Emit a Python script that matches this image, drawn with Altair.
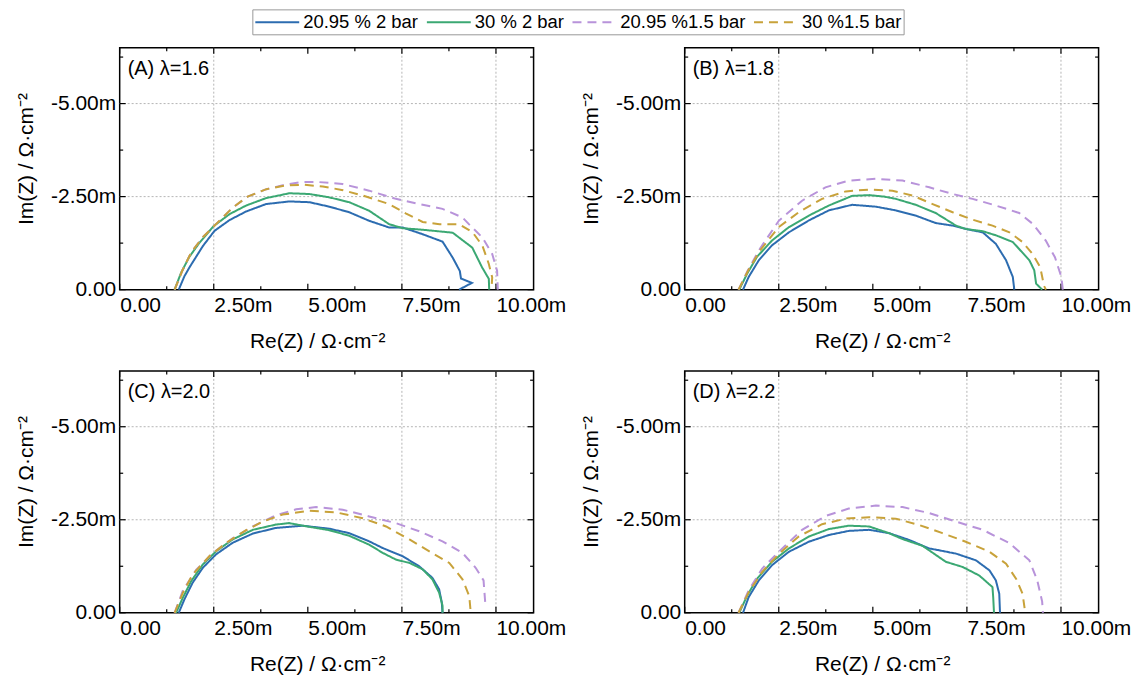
import altair as alt
import pandas as pd

FONT = "Liberation Sans"

# Series (O2 fraction, back pressure) with their line styles
SERIES = ["20.95 % 2 bar", "30 % 2 bar", "20.95 %1.5 bar", "30 %1.5 bar"]
COLORS = ["#2C6CB0", "#3BA873", "#B893DA", "#C8A23A"]
DASHES = [[1, 0], [1, 0], [9, 6], [9, 6]]

PANEL_LABELS = ["(A) λ=1.6", "(B) λ=1.8", "(C) λ=2.0", "(D) λ=2.2"]

# Nyquist curves: (Re Z, -Im Z) in mΩ·cm²
A_2095_2BAR = [(1.57, 0), (1.72, 0.36), (1.85, 0.59), (2.21, 1.17), (2.52, 1.58), (2.92, 1.87),
               (3.36, 2.10), (3.89, 2.30), (4.51, 2.37), (5.04, 2.35), (5.57, 2.23), (6.10, 2.08),
               (6.63, 1.85), (7.16, 1.67), (7.52, 1.67), (8.05, 1.49), (8.58, 1.29), (8.85, 0.86),
               (9.04, 0.50), (9.07, 0.30), (9.36, 0.18), (9.02, 0.0)]
A_30_2BAR = [(1.46, 0), (1.63, 0.45), (1.85, 0.88), (2.12, 1.26), (2.50, 1.71), (2.92, 2.03),
             (3.36, 2.26), (3.89, 2.46), (4.51, 2.59), (5.04, 2.57), (5.57, 2.48), (6.10, 2.35),
             (6.63, 2.12), (7.16, 1.76), (7.52, 1.65), (8.05, 1.61), (8.85, 1.53), (9.37, 1.13),
             (9.63, 0.60), (9.81, 0.29), (9.82, 0.0)]
A_2095_15BAR = [(1.46, 0), (1.66, 0.50), (1.90, 1.00), (2.20, 1.40), (2.60, 1.80), (3.00, 2.20),
                (3.40, 2.50), (3.90, 2.70), (4.40, 2.82), (4.80, 2.89), (5.30, 2.89), (5.92, 2.84),
                (6.63, 2.66), (7.34, 2.44), (7.96, 2.30), (8.58, 2.17), (9.11, 1.94), (9.28, 1.76),
                (9.64, 1.40), (9.90, 0.96), (10.03, 0.51), (10.05, 0.0)]
A_30_15BAR = [(1.46, 0), (1.66, 0.50), (1.90, 1.00), (2.20, 1.40), (2.60, 1.80), (3.00, 2.20),
              (3.40, 2.50), (3.90, 2.70), (4.40, 2.80), (4.90, 2.82), (5.40, 2.77), (5.90, 2.68),
              (6.46, 2.53), (7.16, 2.30), (7.60, 2.05), (8.05, 1.82), (8.50, 1.76), (9.02, 1.76),
              (9.38, 1.54), (9.64, 1.18), (9.81, 0.69), (9.90, 0.33), (9.88, 0.0)]

B_2095_2BAR = [(1.55, 0), (1.70, 0.34), (1.97, 0.79), (2.32, 1.19), (2.77, 1.54), (3.30, 1.86),
               (3.83, 2.13), (4.45, 2.28), (5.08, 2.23), (5.61, 2.13), (6.14, 1.99), (6.67, 1.79),
               (7.12, 1.72), (7.47, 1.63), (7.92, 1.54), (8.27, 1.23), (8.54, 0.79), (8.72, 0.34),
               (8.76, 0.0)]
B_30_2BAR = [(1.45, 0), (1.66, 0.43), (1.92, 0.88), (2.32, 1.32), (2.77, 1.68), (3.30, 1.99),
             (3.83, 2.26), (4.45, 2.52), (4.90, 2.54), (5.30, 2.50), (5.61, 2.44), (6.14, 2.28),
             (6.67, 2.06), (7.21, 1.72), (7.47, 1.63), (7.92, 1.57), (8.27, 1.46), (8.72, 1.28),
             (9.16, 0.79), (9.29, 0.52), (9.34, 0.16), (9.47, 0.03), (9.50, 0.0)]
B_2095_15BAR = [(1.43, 0), (1.68, 0.52), (2.00, 1.10), (2.50, 1.85), (3.12, 2.39), (3.74, 2.75),
                (4.36, 2.93), (5.08, 2.98), (5.79, 2.93), (6.50, 2.75), (7.12, 2.57), (7.65, 2.44),
                (8.27, 2.26), (8.89, 2.06), (9.26, 1.76), (9.60, 1.31), (9.84, 0.87), (10.01, 0.34),
                (10.05, 0.0)]
B_30_15BAR = [(1.43, 0), (1.68, 0.50), (2.00, 1.05), (2.50, 1.68), (3.03, 2.08), (3.65, 2.44),
              (4.28, 2.64), (4.90, 2.69), (5.52, 2.66), (6.05, 2.53), (6.59, 2.30), (7.12, 2.08),
              (7.65, 1.88), (8.18, 1.72), (8.63, 1.54), (8.98, 1.28), (9.25, 0.95), (9.45, 0.60),
              (9.55, 0.10), (9.60, 0.0)]

C_2095_2BAR = [(1.57, 0), (1.72, 0.36), (1.94, 0.81), (2.21, 1.21), (2.56, 1.57), (3.00, 1.88),
               (3.54, 2.13), (4.15, 2.28), (4.86, 2.34), (5.57, 2.26), (6.10, 2.14), (6.63, 1.92),
               (6.99, 1.74), (7.52, 1.52), (7.96, 1.25), (8.31, 0.94), (8.49, 0.63), (8.56, 0.28),
               (8.58, 0.0)]
C_30_2BAR = [(1.50, 0), (1.68, 0.41), (1.90, 0.85), (2.21, 1.30), (2.56, 1.65), (3.00, 1.97),
             (3.54, 2.23), (4.15, 2.37), (4.50, 2.41), (5.04, 2.31), (5.57, 2.22), (6.10, 2.07),
             (6.63, 1.83), (6.99, 1.61), (7.34, 1.43), (7.70, 1.34), (8.05, 1.17), (8.31, 0.90),
             (8.49, 0.54), (8.58, 0.19), (8.58, 0.0)]
C_2095_15BAR = [(1.46, 0), (1.68, 0.60), (2.03, 1.15), (2.47, 1.60), (3.00, 2.00), (3.54, 2.32),
                (4.15, 2.62), (4.69, 2.78), (5.22, 2.84), (5.93, 2.77), (6.63, 2.59), (7.34, 2.41),
                (7.96, 2.19), (8.58, 1.92), (9.11, 1.61), (9.46, 1.21), (9.67, 0.87), (9.72, 0.20)]
C_30_15BAR = [(1.46, 0), (1.68, 0.54), (1.94, 1.03), (2.38, 1.52), (2.83, 1.88), (3.36, 2.22),
              (3.80, 2.45), (4.33, 2.64), (5.04, 2.74), (5.75, 2.70), (6.46, 2.54), (7.08, 2.32),
              (7.70, 1.97), (8.23, 1.65), (8.76, 1.34), (9.11, 0.90), (9.29, 0.45), (9.33, 0.0)]

D_2095_2BAR = [(1.55, 0), (1.70, 0.42), (1.97, 0.87), (2.32, 1.28), (2.77, 1.64), (3.30, 1.91),
               (3.83, 2.09), (4.36, 2.20), (4.90, 2.23), (5.43, 2.14), (5.96, 1.96), (6.49, 1.73),
               (6.76, 1.68), (7.21, 1.59), (7.74, 1.41), (8.10, 1.14), (8.27, 0.87), (8.36, 0.51),
               (8.38, 0.0)]
D_30_2BAR = [(1.45, 0), (1.66, 0.46), (1.92, 0.91), (2.32, 1.37), (2.77, 1.73), (3.30, 2.05),
             (3.83, 2.25), (4.36, 2.34), (4.90, 2.32), (5.43, 2.14), (5.79, 1.98), (6.32, 1.80),
             (6.94, 1.37), (7.39, 1.23), (7.83, 1.00), (8.18, 0.69), (8.20, 0.40), (8.22, 0.0)]
D_2095_15BAR = [(1.43, 0), (1.70, 0.60), (2.06, 1.19), (2.50, 1.64), (3.12, 2.23), (3.74, 2.60),
                (4.36, 2.80), (5.08, 2.88), (5.79, 2.84), (6.50, 2.68), (7.21, 2.45), (7.92, 2.23),
                (8.63, 1.87), (9.16, 1.41), (9.37, 0.87), (9.50, 0.30), (9.52, 0.0)]
D_30_15BAR = [(1.43, 0), (1.70, 0.55), (2.06, 1.10), (2.50, 1.58), (3.03, 2.05), (3.65, 2.38),
              (4.28, 2.53), (4.90, 2.57), (5.61, 2.53), (6.23, 2.36), (6.85, 2.14), (7.47, 1.91),
              (8.10, 1.64), (8.54, 1.32), (8.81, 0.91), (8.98, 0.51), (9.05, 0.0)]

PANEL_CURVES = [
    [A_2095_2BAR, A_30_2BAR, A_2095_15BAR, A_30_15BAR],
    [B_2095_2BAR, B_30_2BAR, B_2095_15BAR, B_30_15BAR],
    [C_2095_2BAR, C_30_2BAR, C_2095_15BAR, C_30_15BAR],
    [D_2095_2BAR, D_30_2BAR, D_2095_15BAR, D_30_15BAR],
]

# Axis ticks and grid
RE_DOMAIN = [0, 11]
IM_DOMAIN = [0, 6.5]
MAJOR_RE = [0, 2.5, 5.0, 7.5, 10.0]
MINOR_RE = [1.25, 3.75, 6.25, 8.75]
MAJOR_IM = [0, 2.5, 5.0]
MINOR_IM = [1.25, 3.75, 6.25]
GRID_RE = [2.5, 7.5, 10.0]
GRID_IM = [2.5, 5.0]

W, H = 415, 242.5
TICK_FS = 21
TITLE_FS = 21


def x_enc():
    return alt.X(
        "re:Q",
        scale=alt.Scale(domain=RE_DOMAIN, nice=False, zero=False),
        axis=alt.Axis(
            values=MAJOR_RE,
            labelExpr="datum.value == 0 ? '0.00' : format(datum.value, '.2f') + 'm'",
            labelAlign="left", labelBaseline="middle", labelPadding=16,
            labelFlush=False, labelOverlap=False,
            labelFont=FONT, labelFontSize=TICK_FS, labelColor="black",
            ticks=False, domain=False, grid=False,
            title="Re(Z) / Ω·cm⁻²", titleFont=FONT, titleFontSize=TITLE_FS,
            titleFontWeight="normal", titleColor="black",
            titleX=198, titleY=52, titleAlign="center", titleBaseline="middle",
        ),
    )


def y_enc():
    return alt.Y(
        "im:Q",
        scale=alt.Scale(domain=IM_DOMAIN, nice=False, zero=False),
        axis=alt.Axis(
            values=MAJOR_IM,
            labelExpr="datum.value == 0 ? '0.00' : '-' + format(datum.value, '.2f') + 'm'",
            labelAlign="right", labelBaseline="middle", labelPadding=4,
            labelFlush=False, labelOverlap=False,
            labelFont=FONT, labelFontSize=TICK_FS, labelColor="black",
            ticks=False, domain=False, grid=False,
            title="Im(Z) / Ω·cm⁻²", titleFont=FONT, titleFontSize=TITLE_FS,
            titleFontWeight="normal", titleColor="black", titleAngle=270,
            titleX=-93.5, titleY=111, titleAlign="center", titleBaseline="middle",
        ),
    )


# Legend key: a horizontal stroke that starts at the left of its nominal
# symbol box and runs past it, so the row stays compact with long samples.
LEGEND = alt.Legend(
    title=None, orient="none", legendX=133, legendY=-38.5, direction="horizontal",
    symbolType="M-1,0L3.4,0", symbolSize=400, symbolStrokeWidth=2,
    labelOffset=27, gridAlign="none",
    labelFont=FONT, labelFontSize=18.5, labelColor="black",
    columnPadding=4, padding=2, strokeColor="#999999", fillColor="white",
)


def curve_frame(curves):
    rows = []
    for name, pts in zip(SERIES, curves):
        for k, (re, im) in enumerate(pts):
            rows.append({"series": name, "k": k, "re": re, "im": im})
    return pd.DataFrame(rows)


def panel(label, curves):
    grid_x = alt.Chart(pd.DataFrame({"re": GRID_RE})).mark_rule(
        color="#b5b5b5", strokeDash=[2, 2], strokeWidth=1
    ).encode(x=x_enc(), y=alt.value(0), y2=alt.value(H))
    grid_y = alt.Chart(pd.DataFrame({"im": GRID_IM})).mark_rule(
        color="#b5b5b5", strokeDash=[2, 2], strokeWidth=1
    ).encode(y=y_enc(), x=alt.value(0), x2=alt.value(W))

    layers = [grid_x, grid_y]
    for vals, ln in ((MAJOR_RE, 6), (MINOR_RE, 3.5)):
        src = pd.DataFrame({"re": vals})
        for y0, y1 in ((H, H - ln), (0, ln)):
            layers.append(alt.Chart(src).mark_rule(color="black", strokeWidth=1.2).encode(
                x=x_enc(), y=alt.value(y0), y2=alt.value(y1)))
    for vals, ln in ((MAJOR_IM, 6), (MINOR_IM, 3.5)):
        src = pd.DataFrame({"im": vals})
        for x0, x1 in ((0, ln), (W, W - ln)):
            layers.append(alt.Chart(src).mark_rule(color="black", strokeWidth=1.2).encode(
                y=y_enc(), x=alt.value(x0), x2=alt.value(x1)))

    lines = alt.Chart(curve_frame(curves)).mark_line(strokeWidth=2).encode(
        x=x_enc(),
        y=y_enc(),
        order="k:Q",
        color=alt.Color("series:N", scale=alt.Scale(domain=SERIES, range=COLORS), legend=LEGEND),
        strokeDash=alt.StrokeDash("series:N", scale=alt.Scale(domain=SERIES, range=DASHES),
                                  legend=LEGEND),
    )
    text = alt.Chart(pd.DataFrame({"label": [label]})).mark_text(
        align="left", baseline="middle", font=FONT, fontSize=20, color="black"
    ).encode(x=alt.value(8), y=alt.value(21), text="label:N")

    layers += [lines, text]
    return alt.layer(*layers).properties(width=W, height=H)


panels = [panel(lbl, cv) for lbl, cv in zip(PANEL_LABELS, PANEL_CURVES)]

chart = alt.concat(
    *panels, columns=2,
    spacing=alt.RowColnumber(row=81, column=151.5),
    bounds="flush",
).properties(
    padding={"left": 14, "top": 8, "right": 4, "bottom": 4},
    background="white",
).configure_view(stroke="black", strokeWidth=1.5)

chart.save("out.html", embed_options={"renderer": "svg", "actions": False})
